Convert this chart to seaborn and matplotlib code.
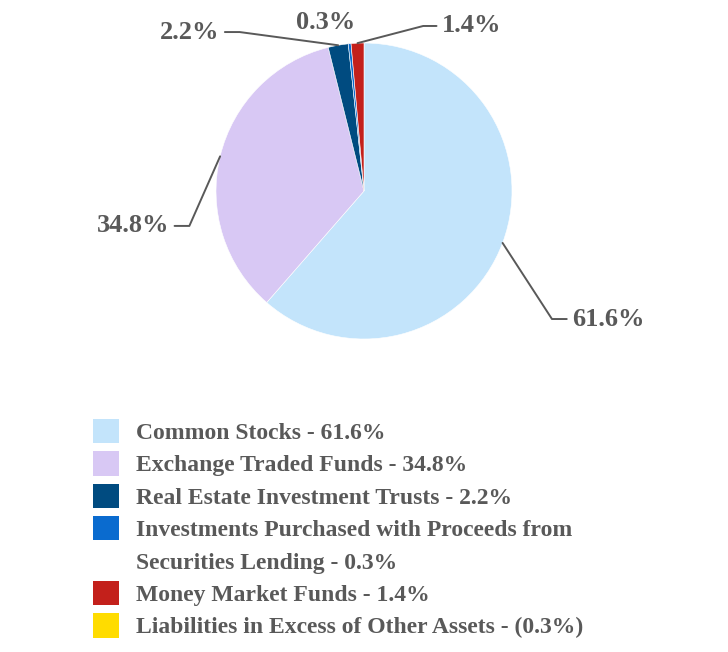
import numpy as np
import seaborn as sns
from matplotlib import pyplot as plt
from matplotlib.patches import Patch

categories = [
    "Common Stocks",
    "Exchange Traded Funds",
    "Real Estate Investment Trusts",
    "Investments Purchased with Proceeds from\nSecurities Lending",
    "Money Market Funds",
    "Liabilities in Excess of Other Assets",
]
values = [61.6, 34.8, 2.2, 0.3, 1.4, -0.3]
colors = ["#C3E4FB", "#D8C8F4", "#004B80", "#0A6BCF", "#C3201B", "#FFDC00"]

# where the slice labels sit (axes data units, radius = 1)
label_spots = {
    "Common Stocks": ((1.27, -0.865), (1.37, -0.865), "left"),
    "Exchange Traded Funds": ((-1.18, -0.236), (-1.28, -0.236), "right"),
    "Real Estate Investment Trusts": ((-0.84, 1.074), (-0.94, 1.074), "right"),
    "Money Market Funds": ((0.40, 1.115), (0.49, 1.115), "left"),
}

TEXT_COLOR = "#595959"


def fmt_pct(v: float) -> str:
    return f"({abs(v):.1f}%)" if v < 0 else f"{v:.1f}%"


def main() -> None:
    sns.set_style("white")
    plt.rcParams["font.family"] = ["Liberation Serif", "DejaVu Serif"]
    plt.rcParams["font.weight"] = "bold"

    fig = plt.figure(figsize=(7.28, 6.52), dpi=100)
    ax = fig.add_axes([216 / 728, 313 / 652, 296 / 728, 296 / 652])

    pos = [(c, v, col) for c, v, col in zip(categories, values, colors) if v > 0]
    wedges, _ = ax.pie(
        [v for _, v, _ in pos],
        colors=[col for _, _, col in pos],
        startangle=90,
        counterclock=False,
        wedgeprops={"linewidth": 0.4, "edgecolor": "white"},
    )
    ax.set_xlim(-1, 1)
    ax.set_ylim(-1, 1)
    ax.set_aspect("equal")

    for w, (cat, v, _) in zip(wedges, pos):
        mid = np.deg2rad((w.theta1 + w.theta2) / 2)
        ax_, ay_ = np.cos(mid), np.sin(mid)
        if cat in label_spots:
            elbow, end, ha = label_spots[cat]
            ax.plot([ax_, elbow[0], end[0]], [ay_, elbow[1], end[1]],
                    color=TEXT_COLOR, lw=1.4, clip_on=False)
            dx = 0.035 if ha == "left" else -0.035
            ax.text(end[0] + dx, end[1], fmt_pct(v), ha=ha, va="center",
                    fontsize=19, color=TEXT_COLOR, fontweight="bold")
        else:
            ax.text(-0.26, 1.14, fmt_pct(v), ha="center", va="center",
                    fontsize=19, color=TEXT_COLOR, fontweight="bold")

    # wrapped labels get one legend row per line, extra lines with a blank handle
    handles, labels = [], []
    for c, v, col in zip(categories, values, colors):
        lines = f"{c} - {fmt_pct(v)}".split("\n")
        handles.append(Patch(facecolor=col, edgecolor="none"))
        labels.append(lines[0])
        for extra in lines[1:]:
            handles.append(Patch(facecolor="none", edgecolor="none"))
            labels.append(extra)

    leg = fig.legend(
        handles,
        labels,
        loc="upper left",
        bbox_to_anchor=(93 / 728, 1 - 419 / 652),
        frameon=False,
        fontsize=17,
        handlelength=1.08,
        handleheight=1.2,
        handletextpad=0.72,
        labelspacing=0.31,
        borderpad=0,
        borderaxespad=0,
    )
    for t in leg.get_texts():
        t.set_color(TEXT_COLOR)
        t.set_fontweight("bold")

    fig.savefig("out.png", dpi=100)
    plt.close(fig)


if __name__ == "__main__":
    main()
